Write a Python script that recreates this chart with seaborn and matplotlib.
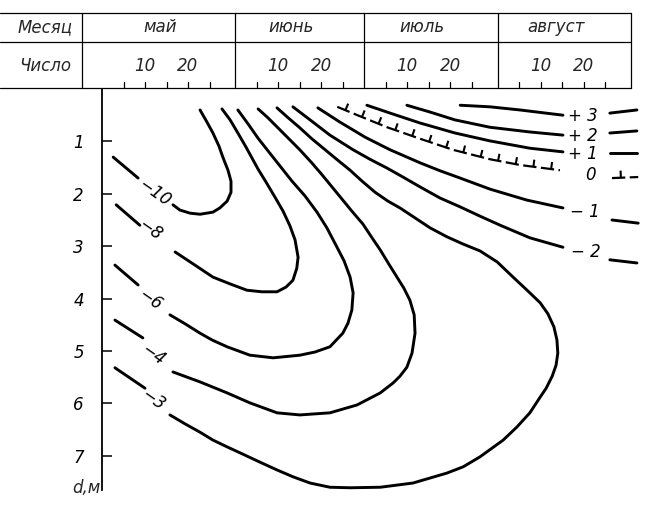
import numpy as np
import pandas as pd
import matplotlib
matplotlib.use("Agg")
import matplotlib.pyplot as plt
import matplotlib.patheffects as pe
import seaborn as sns

# ---------------- data ----------------
months = ["май", "июнь", "июль", "август"]
month_starts = [0, 31, 61, 92]          # days since 1 May
month_ends = [31, 61, 92, 123]
day_ticks = [5, 10, 15, 20, 25]
day_labels = [10, 20]
depth_ticks = [1, 2, 3, 4, 5, 6, 7]

# isolines: t = days since 1 May, d = depth (m)
m10_t = [22.8, 24.4, 25.8, 27.2, 28.1, 29.3, 30.0, 30.0, 29.1, 27.4, 25.8, 22.8, 20.5, 18.1, 16.5]
m10_d = [0.40, 0.63, 0.84, 1.09, 1.30, 1.55, 1.76, 1.97, 2.14, 2.27, 2.35, 2.39, 2.37, 2.31, 2.21]
m10_tail_t = [2.6, 8.4]
m10_tail_d = [1.30, 1.70]

m8_t = [27.9, 29.8, 31.6, 33.5, 34.9, 36.3, 38.1, 40.2, 42.1, 43.7, 44.9, 45.6, 45.3, 44.4, 42.8,
        40.7, 37.2, 33.7, 29.8, 25.8, 21.6, 17.0]
m8_d = [0.38, 0.59, 0.84, 1.11, 1.32, 1.53, 1.77, 2.06, 2.33, 2.61, 2.88, 3.21, 3.42, 3.65, 3.78,
        3.87, 3.87, 3.84, 3.72, 3.59, 3.36, 3.11]
m8_tail_t = [3.3, 8.8]
m8_tail_d = [2.21, 2.60]

m6_t = [31.6, 34.0, 36.3, 38.6, 41.4, 44.2, 47.2, 50.0, 52.3, 54.4, 56.3, 57.7, 58.4, 58.1, 57.2,
        56.0, 53.0, 49.5, 46.0, 39.8, 34.4, 29.1, 25.6, 22.8, 19.3, 15.8]
m6_d = [0.40, 0.67, 0.94, 1.18, 1.47, 1.76, 2.04, 2.35, 2.65, 2.98, 3.28, 3.59, 3.89, 4.22, 4.47,
        4.66, 4.92, 5.02, 5.08, 5.13, 5.08, 4.92, 4.79, 4.66, 4.48, 4.31]
m6_tail_t = [3.0, 8.4]
m6_tail_d = [3.36, 3.74]

m4_t = [36.3, 38.6, 41.4, 43.7, 46.0, 48.8, 51.2, 53.7, 56.0, 58.1, 60.7, 62.8, 64.7, 66.7, 68.6,
        70.2, 71.6, 72.6, 72.8, 72.1, 70.9, 69.3, 67.7, 64.7, 59.3, 53.0, 46.0, 40.7, 34.4, 29.1,
        22.8, 16.5]
m4_d = [0.38, 0.55, 0.78, 0.97, 1.16, 1.41, 1.64, 1.89, 2.12, 2.33, 2.58, 2.84, 3.07, 3.34, 3.59,
        3.80, 4.03, 4.31, 4.66, 5.04, 5.31, 5.48, 5.61, 5.80, 6.03, 6.18, 6.22, 6.18, 5.99, 5.80,
        5.59, 5.40]
m4_tail_t = [3.0, 9.5]
m4_tail_d = [4.41, 4.75]

m3_t = [40.7, 43.3, 46.0, 48.8, 51.9, 54.7, 57.7, 60.5, 63.5, 66.5, 69.3, 72.8, 76.3, 80.2, 84.0,
        87.9, 91.9, 95.6, 99.5, 101.9, 103.7, 105.1, 105.8, 106.0, 105.6, 104.7, 103.3, 101.9, 99.5,
        96.5, 93.3, 87.9, 84.0, 80.2, 72.3, 64.7, 57.7, 53.0, 48.4, 44.4, 40.7, 36.7, 32.8, 29.1,
        25.8, 22.8, 19.3, 15.8]
m3_d = [0.36, 0.55, 0.74, 0.95, 1.16, 1.35, 1.55, 1.76, 1.97, 2.14, 2.27, 2.46, 2.65, 2.82, 2.96,
        3.09, 3.30, 3.59, 3.89, 4.08, 4.29, 4.54, 4.79, 5.04, 5.27, 5.48, 5.71, 5.88, 6.18,
        6.45, 6.70, 7.02, 7.21, 7.33, 7.52, 7.60, 7.61, 7.60, 7.52, 7.40, 7.27, 7.12, 6.97, 6.83,
        6.70, 6.55, 6.39, 6.22]
m3_tail_t = [3.0, 10.0]
m3_tail_d = [5.32, 5.71]

m2_t = [44.4, 48.4, 53.0, 58.4, 62.3, 66.3, 70.2, 74.0, 78.6, 83.3, 88.0, 92.6, 99.5, 107.2]
m2_d = [0.34, 0.59, 0.88, 1.16, 1.34, 1.51, 1.69, 1.87, 2.08, 2.25, 2.43, 2.60, 2.84, 3.02]
m2_tail_t = [118.1, 124.4]
m2_tail_d = [3.26, 3.32]

m1_t = [50.2, 55.3, 61.2, 67.0, 74.0, 78.6, 83.3, 90.2, 98.8, 107.2]
m1_d = [0.36, 0.63, 0.92, 1.16, 1.41, 1.56, 1.70, 1.91, 2.12, 2.27]
m1_tail_t = [118.6, 124.7]
m1_tail_d = [2.50, 2.56]

z0_t = [54.7, 60.0, 66.3, 74.0, 81.6, 90.2, 97.2, 106.5]
z0_d = [0.34, 0.52, 0.73, 0.95, 1.16, 1.34, 1.45, 1.55]
z0_tail_t = [118.6, 124.7]
z0_tail_d = [1.70, 1.68]

p1_t = [61.6, 67.0, 74.0, 82.1, 90.2, 99.5, 107.2]
p1_d = [0.31, 0.46, 0.65, 0.84, 0.99, 1.13, 1.20]
p1_tail_t = [118.1, 124.4]
p1_tail_d = [1.22, 1.22]

p2_t = [70.9, 76.3, 82.1, 90.2, 99.5, 107.2]
p2_d = [0.31, 0.44, 0.59, 0.73, 0.82, 0.88]
p2_tail_t = [118.1, 124.4]
p2_tail_d = [0.84, 0.80]

p3_t = [83.3, 90.2, 97.2, 107.2]
p3_d = [0.31, 0.34, 0.40, 0.50]
p3_tail_t = [118.1, 124.4]
p3_tail_d = [0.46, 0.40]

# isoline labels (text, t, d, rotation)
label_text = ["−10", "−8", "−6", "−4", "−3", "+ 3", "+ 2", "+ 1", "0", "− 1", "− 2"]
label_t = [12.3, 11.2, 11.2, 11.9, 11.9, 111.9, 111.9, 111.9, 113.5, 112.3, 112.6]
label_d = [1.98, 2.69, 4.03, 5.08, 5.94, 0.52, 0.90, 1.24, 1.64, 2.35, 3.11]
label_rot = [-35, -35, -35, -35, -35, 0, 0, 0, 0, 0, 0]

# ---------------- layout ----------------
W, H = 654, 516
PXD = 4.3          # px per day
X0 = 102           # px of 1 May / depth axis
PXM = 52.4         # px per metre
Y0 = 89            # px of depth 0
XR = 645
YB = 490
XMAX = (XR - X0) / PXD
YMAX = (YB - Y0) / PXM

sns.set_theme(style="white")
plt.rcParams['font.family'] = ['DejaVu Sans']

fig = plt.figure(figsize=(W / 100, H / 100), dpi=100)
fig.patch.set_facecolor("white")
ax = fig.add_axes([X0 / W, 1 - YB / H, (XR - X0) / W, (YB - Y0) / H])
ax.set_facecolor("none")

solid = [
    ("m10", m10_t, m10_d), ("m10t", m10_tail_t, m10_tail_d),
    ("m8", m8_t, m8_d), ("m8t", m8_tail_t, m8_tail_d),
    ("m6", m6_t, m6_d), ("m6t", m6_tail_t, m6_tail_d),
    ("m4", m4_t, m4_d), ("m4t", m4_tail_t, m4_tail_d),
    ("m3", m3_t, m3_d), ("m3t", m3_tail_t, m3_tail_d),
    ("m2", m2_t, m2_d), ("m2t", m2_tail_t, m2_tail_d),
    ("m1", m1_t, m1_d), ("m1t", m1_tail_t, m1_tail_d),
    ("p1", p1_t, p1_d), ("p1t", p1_tail_t, p1_tail_d),
    ("p2", p2_t, p2_d), ("p2t", p2_tail_t, p2_tail_d),
    ("p3", p3_t, p3_d), ("p3t", p3_tail_t, p3_tail_d),
]
rows = []
for name, tt, dd in solid:
    for i, (a, b) in enumerate(zip(tt, dd)):
        rows.append({"seg": name, "order": i, "t": a, "depth": b})
df = pd.DataFrame(rows)

zrows = []
for name, tt, dd in [("z0", z0_t, z0_d), ("z0t", z0_tail_t, z0_tail_d)]:
    for i, (a, b) in enumerate(zip(tt, dd)):
        zrows.append({"seg": name, "order": i, "t": a, "depth": b})
dfz = pd.DataFrame(zrows)

sns.lineplot(data=df, x="t", y="depth", units="seg", estimator=None, sort=False,
             color="black", lw=2.1, ax=ax, legend=False, clip_on=False,
             solid_capstyle="round", solid_joinstyle="round")
sns.lineplot(data=dfz, x="t", y="depth", units="seg", estimator=None, sort=False,
             color="black", lw=1.6, ax=ax, legend=False, clip_on=False,
             linestyle=(0, (6, 2)),
             path_effects=[pe.withTickedStroke(angle=90, spacing=12.8, length=0.4, linewidth=1.5)])

for s, a, b, r in zip(label_text, label_t, label_d, label_rot):
    ax.text(a, b, s, ha="center", va="center", rotation=r, rotation_mode="anchor",
            fontsize=12, fontstyle="italic", color="black")

ax.set_xlim(0, XMAX)
ax.set_ylim(YMAX, 0)
for s in ["top", "right", "bottom"]:
    ax.spines[s].set_visible(False)
ax.spines["left"].set_color("black")
ax.spines["left"].set_linewidth(1.3)
ax.set_xticks([])
ax.set_yticks(depth_ticks)
ax.set_yticklabels([str(v) for v in depth_ticks], fontstyle="italic", fontsize=12)
ax.tick_params(axis="y", direction="in", length=7, width=1.1, pad=13, left=True, colors="black")
ax.set_xlabel("")
ax.set_ylabel("")
ax.text(-3.6, 7.62, "d,м", ha="center", va="center", fontsize=12, fontstyle="italic", clip_on=False)

# ---------------- header table ----------------
HT, HB = 13, 88
hx = fig.add_axes([0, 1 - HB / H, XR / W, (HB - HT) / H])
hx.set_xlim(-X0 / PXD, XMAX)
hx.set_ylim(0, 1)
hx.axis("off")
xl = -X0 / PXD
xr = month_ends[-1]
ymid = (HB - 42) / (HB - HT)
for yy in [0, ymid, 1]:
    hx.plot([xl, xr], [yy, yy], color="black", lw=0.9, clip_on=False)
xsep = (82 - X0) / PXD
for xx in [xsep] + month_ends:
    hx.plot([xx, xx], [0, 1], color="black", lw=0.9, clip_on=False)
tick_h = 6 / (HB - HT)
for ms in month_starts:
    for dday in day_ticks:
        hx.plot([ms + dday, ms + dday], [0, tick_h], color="black", lw=0.9)
yr1 = (HB - 27) / (HB - HT)
yr2 = (HB - 66) / (HB - HT)
xc = (45 - X0) / PXD
hx.text(xc, yr1, "Месяц", ha="center", va="center", fontsize=12, fontstyle="italic")
hx.text(xc, yr2, "Число", ha="center", va="center", fontsize=12, fontstyle="italic")
for name, ms, me in zip(months, month_starts, month_ends):
    hx.text((ms + me) / 2 - 2, yr1, name, ha="center", va="center", fontsize=12, fontstyle="italic")
    for dl in day_labels:
        hx.text(ms + dl, yr2, str(dl), ha="center", va="center", fontsize=12, fontstyle="italic")

fig.savefig("out.png", dpi=100, facecolor="white")
